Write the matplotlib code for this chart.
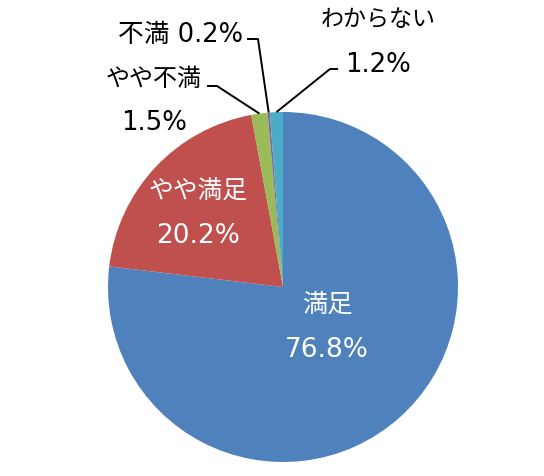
import numpy as np
import matplotlib
matplotlib.use('Agg')
import matplotlib.pyplot as plt

# DejaVu for the wide Verdana-like digits, Noto for the Japanese glyphs
plt.rcParams['font.family'] = ['DejaVu Sans', 'Noto Sans CJK JP']

# data
labels = ['満足', 'やや満足', 'やや不満', '不満', 'わからない']
values = [76.8, 20.2, 1.5, 0.2, 1.2]
colors = ['#4F81BD', '#C0504D', '#9BBB59', '#8064A2', '#4BACC6']

# pie geometry in pixels
W, H = 544, 477
cx, cy, R = 283, 288, 175


def px(x, y):
    # pixel position -> data units (pie radius = 1)
    return (x - cx) / R, (cy - y) / R


fig = plt.figure(figsize=(W / 100, H / 100), dpi=100)
ax = fig.add_axes([0, 0, 1, 1])
wedges, _ = ax.pie(values, colors=colors, startangle=90, counterclock=False,
                   radius=1, center=(0, 0), wedgeprops=dict(linewidth=0))
ax.set_xlim(px(0, 0)[0], px(W, 0)[0])
ax.set_ylim(px(0, H)[1], px(0, 0)[1])
ax.set_aspect('auto')
ax.axis('off')

# label layout: x centre, baseline of name line, baseline of percent line
layout = {
    0: dict(x=327, name_y=312, pct_y=357, color='white', fs_name=18.2, fs_pct=19),
    1: dict(x=198, name_y=199, pct_y=243, color='white', fs_name=17.8, fs_pct=19),
    2: dict(x=154, name_y=86, pct_y=130, color='black', fs_name=17.3, fs_pct=18.7),
    4: dict(x=378, name_y=26, pct_y=72, color='black', fs_name=16.6, fs_pct=18.7),
}
for i, l in layout.items():
    ax.text(*px(l['x'], l['name_y']), labels[i], color=l['color'],
            fontsize=l['fs_name'], ha='center', va='baseline')
    ax.text(*px(l['x'], l['pct_y']), f'{values[i]:.1f}%', color=l['color'],
            fontsize=l['fs_pct'], ha='center', va='baseline')

# 不満 on one line
ax.text(*px(243, 42), f'{labels[3]} {values[3]:.1f}%', color='black',
        fontsize=18.5, ha='right', va='baseline')

# leader lines: elbow, end of the horizontal bit
leaders = {
    2: dict(elbow=(217, 87), end=(207, 87)),
    3: dict(elbow=(258, 40), end=(247, 40)),
    4: dict(elbow=(330, 70), end=(338, 70)),
}
for i, o in leaders.items():
    w = wedges[i]
    mid = np.deg2rad((w.theta1 + w.theta2) / 2)
    x0, y0 = np.cos(mid), np.sin(mid)
    ex, ey = px(*o['elbow'])
    tx, ty = px(*o['end'])
    ax.plot([x0, ex, tx], [y0, ey, ty], color='black', linewidth=1.4,
            solid_capstyle='butt')

fig.savefig('out.png', dpi=100)
